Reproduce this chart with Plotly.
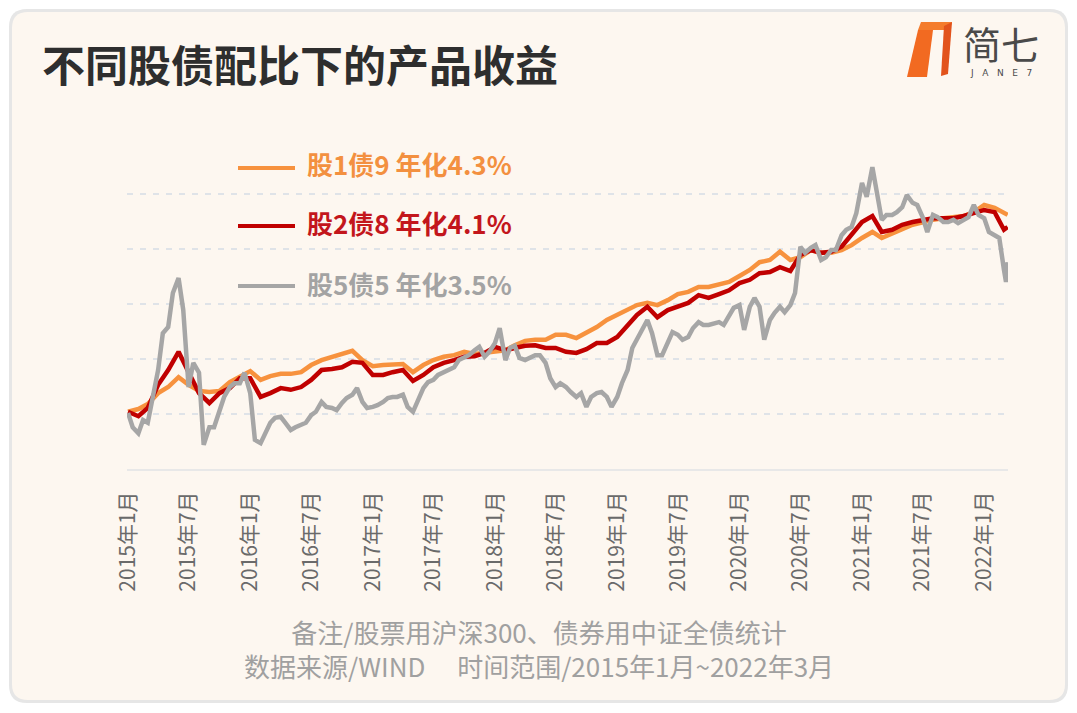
import pandas as pd
import plotly.graph_objects as go

# ---------------- data ----------------
month_dates = list(pd.date_range("2015-01-01", "2022-03-01", freq="MS").strftime("%Y-%m-%d")) + ["2022-03-12"]
half_month_dates = list(pd.date_range("2015-01-01", "2022-03-01", freq="SMS").strftime("%Y-%m-%d")) + ["2022-03-07", "2022-03-12"]

stock1_bond9 = [
    1.004, 1.009, 1.018, 1.038, 1.049, 1.067, 1.053, 1.042, 1.040, 1.042,
    1.058, 1.067, 1.078, 1.062, 1.069, 1.073, 1.073, 1.076, 1.089, 1.098,
    1.104, 1.109, 1.115, 1.098, 1.087, 1.089, 1.089, 1.091, 1.076, 1.089,
    1.098, 1.104, 1.107, 1.113, 1.109, 1.111, 1.113, 1.116, 1.125, 1.133,
    1.135, 1.135, 1.144, 1.144, 1.138, 1.147, 1.158, 1.171, 1.180, 1.191,
    1.198, 1.202, 1.198, 1.207, 1.218, 1.222, 1.231, 1.231, 1.235, 1.240,
    1.251, 1.262, 1.276, 1.280, 1.295, 1.280, 1.285, 1.298, 1.293, 1.293,
    1.298, 1.307, 1.320, 1.331, 1.320, 1.329, 1.336, 1.344, 1.349, 1.353,
    1.356, 1.358, 1.360, 1.367, 1.380, 1.375, 1.365,
    1.362,
]

stock2_bond8 = [
    1.004, 0.996, 1.011, 1.053, 1.080, 1.113, 1.076, 1.038, 1.020, 1.038,
    1.047, 1.065, 1.065, 1.031, 1.038, 1.047, 1.044, 1.049, 1.062, 1.080,
    1.082, 1.085, 1.095, 1.093, 1.071, 1.071, 1.076, 1.080, 1.060, 1.071,
    1.085, 1.093, 1.098, 1.104, 1.105, 1.111, 1.122, 1.116, 1.120, 1.124,
    1.125, 1.120, 1.120, 1.113, 1.111, 1.118, 1.129, 1.129, 1.140, 1.160,
    1.180, 1.195, 1.176, 1.189, 1.196, 1.202, 1.216, 1.211, 1.218, 1.225,
    1.238, 1.244, 1.256, 1.258, 1.267, 1.260, 1.289, 1.298, 1.293, 1.295,
    1.304, 1.325, 1.349, 1.360, 1.331, 1.335, 1.344, 1.349, 1.353, 1.356,
    1.356, 1.356, 1.360, 1.365, 1.371, 1.367, 1.335,
    1.340,
]

stock5_bond5 = [
    1.002, 0.976, 0.965, 0.989, 0.984, 1.031, 1.080, 1.147, 1.158, 1.220,
    1.247, 1.189, 1.049, 1.093, 1.075, 0.944, 0.976, 0.976, 1.007, 1.031,
    1.049, 1.056, 1.056, 1.075, 1.038, 0.953, 0.947, 0.965, 0.984, 0.993,
    0.995, 0.984, 0.971, 0.976, 0.980, 0.984, 0.998, 1.004, 1.022, 1.013,
    1.011, 1.007, 1.020, 1.029, 1.035, 1.047, 1.022, 1.011, 1.013, 1.016,
    1.022, 1.029, 1.031, 1.031, 1.035, 1.013, 1.004, 1.025, 1.047, 1.058,
    1.062, 1.071, 1.076, 1.080, 1.085, 1.098, 1.104, 1.107, 1.116, 1.122,
    1.104, 1.113, 1.129, 1.156, 1.098, 1.120, 1.124, 1.102, 1.098, 1.102,
    1.107, 1.107, 1.093, 1.065, 1.049, 1.056, 1.049, 1.040, 1.031, 1.038,
    1.013, 1.031, 1.038, 1.040, 1.031, 1.013, 1.031, 1.056, 1.080, 1.120,
    1.135, 1.153, 1.171, 1.147, 1.107, 1.107, 1.129, 1.149, 1.144, 1.135,
    1.140, 1.156, 1.167, 1.162, 1.162, 1.165, 1.167, 1.162, 1.180, 1.193,
    1.198, 1.153, 1.195, 1.211, 1.195, 1.135, 1.171, 1.184, 1.195, 1.185,
    1.198, 1.220, 1.304, 1.293, 1.302, 1.307, 1.280, 1.285, 1.298, 1.298,
    1.325, 1.335, 1.340, 1.365, 1.420, 1.395, 1.449, 1.404, 1.353, 1.362,
    1.362, 1.367, 1.376, 1.398, 1.384, 1.380, 1.358, 1.331, 1.362, 1.358,
    1.349, 1.349, 1.353, 1.347, 1.353, 1.358, 1.380, 1.362, 1.356, 1.331,
    1.325, 1.320, 1.262,
    1.240, 1.276,
]

tick_dates = list(pd.date_range("2015-01-01", "2022-01-01", freq="6MS").strftime("%Y-%m-%d"))
tick_labels = [f"{d[:4]}年{int(d[5:7])}月" for d in tick_dates]

series_names = ["股1债9 年化4.3%", "股2债8 年化4.1%", "股5债5 年化3.5%"]
series_colors = ["#f7923e", "#c00000", "#a6a6a6"]
text_colors = ["#f39040", "#c3161c", "#a3a3a3"]

title_text = "不同股债配比下的产品收益"
note_line1 = "备注/股票用沪深300、债券用中证全债统计"
note_line2 = "数据来源/WIND　 时间范围/2015年1月~2022年3月"

# ---------------- layout helpers ----------------
W, H = 1077, 713
PL, PR, PT, PB = 127, 1008, 139, 469
FONT = "Noto Sans CJK SC"


def fx(px):
    return (px - PL) / (PR - PL)


def fy(py):
    return (PB - py) / (PB - PT)


def rounded_rect(x0, y0, x1, y1, r):
    a, b, c, d = fx(x0), fx(x1), fy(y0), fy(y1)
    rx = r / (PR - PL)
    ry = r / (PB - PT)
    return (f"M {a+rx},{c} L {b-rx},{c} Q {b},{c} {b},{c-ry} "
            f"L {b},{d+ry} Q {b},{d} {b-rx},{d} L {a+rx},{d} "
            f"Q {a},{d} {a},{d+ry} L {a},{c-ry} Q {a},{c} {a+rx},{c} Z")


fig = go.Figure()

xs = [month_dates, month_dates, half_month_dates]
ys = [stock1_bond9, stock2_bond8, stock5_bond5]
for name, x, y, col in zip(series_names, xs, ys, series_colors):
    fig.add_trace(go.Scatter(x=x[:len(y)], y=y, mode="lines", name=name,
                             line=dict(color=col, width=4.5), hoverinfo="skip"))

shapes = []
# card shadow + card
shapes.append(dict(type="path", xref="paper", yref="paper", layer="below",
                   path=rounded_rect(9, 9, 1068, 703, 18),
                   fillcolor="#e6e6e6", line=dict(width=0)))
shapes.append(dict(type="path", xref="paper", yref="paper", layer="below",
                   path=rounded_rect(12, 12, 1065, 700, 16),
                   fillcolor="#fdf7f0", line=dict(width=0)))

# legend sample lines
legend_y = [168, 226, 286]
for yy, col in zip(legend_y, series_colors):
    shapes.append(dict(type="line", xref="paper", yref="paper",
                       x0=fx(238), x1=fx(295), y0=fy(yy), y1=fy(yy),
                       line=dict(color=col, width=4)))

# logo
shapes.append(dict(type="path", xref="paper", yref="paper",
                   path=(f"M {fx(918)},{fy(30)} L {fx(933)},{fy(30)} L {fx(927)},{fy(77)} "
                         f"L {fx(907)},{fy(77)} Z"),
                   fillcolor="#f26a21", line=dict(width=0)))
shapes.append(dict(type="path", xref="paper", yref="paper",
                   path=(f"M {fx(921)},{fy(22)} L {fx(952)},{fy(22)} L {fx(950)},{fy(30)} "
                         f"L {fx(918)},{fy(30)} Z"),
                   fillcolor="#f47c2c", line=dict(width=0)))
shapes.append(dict(type="path", xref="paper", yref="paper",
                   path=(f"M {fx(944)},{fy(26)} L {fx(952)},{fy(22)} L {fx(948)},{fy(74)} "
                         f"L {fx(941)},{fy(76)} Z"),
                   fillcolor="#e2531c", line=dict(width=0)))

annotations = []
annotations.append(dict(text=f"<b>{title_text}</b>", xref="paper", yref="paper",
                        x=fx(40), y=fy(63), xanchor="left", yanchor="middle",
                        showarrow=False, font=dict(family=FONT, size=43, color="#2e2e2e")))
annotations.append(dict(text="简七", xref="paper", yref="paper",
                        x=fx(1001), y=fy(42), xanchor="center", yanchor="middle",
                        showarrow=False, font=dict(family=FONT, size=38, color="#4a4a4a")))
annotations.append(dict(text="J   A   N   E   7", xref="paper", yref="paper",
                        x=fx(1001), y=fy(73), xanchor="center", yanchor="middle",
                        showarrow=False, font=dict(family="DejaVu Sans", size=9, color="#4a4a4a")))

legend_text_y = [163, 222, 283]
for yy, nm, col in zip(legend_text_y, series_names, text_colors):
    annotations.append(dict(text=f"<b>{nm}</b>", xref="paper", yref="paper",
                            x=fx(305), y=fy(yy), xanchor="left", yanchor="middle",
                            showarrow=False, font=dict(family=FONT, size=26, color=col)))

annotations.append(dict(text=f"{note_line1}<br>{note_line2}", xref="paper", yref="paper",
                        x=fx(539), y=fy(648), xanchor="center", yanchor="middle",
                        align="center", showarrow=False,
                        font=dict(family=FONT, size=26, color="#a0a0a0")))

fig.update_layout(
    width=W, height=H, autosize=False,
    margin=dict(l=PL, r=W - PR, t=PT, b=H - PB, pad=0),
    paper_bgcolor="#ffffff", plot_bgcolor="rgba(0,0,0,0)",
    showlegend=False,
    shapes=shapes, annotations=annotations,
    xaxis=dict(type="date", range=["2014-12-29", "2022-03-13"],
               tickmode="array", tickvals=tick_dates, ticktext=tick_labels,
               tickangle=-90, tickfont=dict(family=FONT, size=21, color="#6a6a6a"),
               showgrid=False, zeroline=False, showline=True,
               linecolor="#e8e8e8", linewidth=2,
               ticks="outside", ticklen=12, tickcolor="rgba(0,0,0,0)"),
    yaxis=dict(range=[0.9, 1.5], tickmode="array", tickvals=[1.0, 1.1, 1.2, 1.3, 1.4, 1.5],
               showticklabels=False, showgrid=True, gridcolor="#dfe3e8", gridwidth=1.5,
               griddash="6px,7px", zeroline=False, showline=False),
)

fig.write_html("out.html")
